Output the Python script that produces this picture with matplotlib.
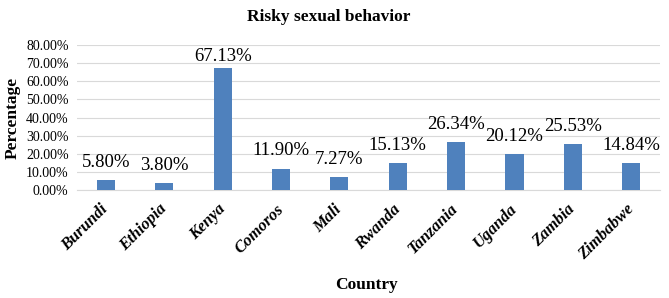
import matplotlib.pyplot as plt
from matplotlib.ticker import PercentFormatter

plt.rcParams['font.family'] = ['Liberation Serif', 'DejaVu Serif']

countries = ['Burundi', 'Ethiopia', 'Kenya', 'Comoros', 'Mali', 'Rwanda',
             'Tanzania', 'Uganda', 'Zambia', 'Zimbabwe']
values = [0.0580, 0.0380, 0.6713, 0.1190, 0.0727, 0.1513,
          0.2634, 0.2012, 0.2553, 0.1484]

fig = plt.figure(figsize=(6.69, 2.98), dpi=100)
ax = fig.add_axes([0.115, 0.362, 0.872, 0.487])

x = range(len(countries))
bars = ax.bar(x, values, width=0.31, color='#4f81bd', zorder=3)
# labels sit a bit above the bar, but are kept inside the plot area
for b, v in zip(bars, values):
    ax.text(b.get_x() + b.get_width() / 2, min(v + 0.05, 0.69), f'{v * 100:.2f}%',
            ha='center', va='bottom', fontsize=13.5)

ax.set_xlim(-0.5, len(countries) - 0.5)
ax.set_ylim(0, 0.8)
ax.set_yticks([i / 10 for i in range(9)])
ax.yaxis.set_major_formatter(PercentFormatter(1.0, decimals=2))
ax.tick_params(axis='y', length=0, labelsize=10, pad=6)
ax.tick_params(axis='x', length=0, pad=12)
ax.set_xticks(list(x))
ax.set_xticklabels(countries, rotation=45, ha='right', va='center', rotation_mode='anchor',
                   fontsize=12, fontweight='bold', fontstyle='italic')
ax.grid(axis='y', color='#d9d9d9', linewidth=0.8, zorder=0)
for s in ['top', 'right', 'left']:
    ax.spines[s].set_visible(False)
ax.spines['bottom'].set_color('#d9d9d9')

fig.text(0.492, 0.943, 'Risky sexual behavior', ha='center', va='center',
         fontsize=12.5, fontweight='bold')
ax.set_ylabel('Percentage', fontsize=12.5, fontweight='bold', labelpad=4)
fig.text(0.548, 0.03, 'Country', ha='center', fontsize=12.5, fontweight='bold')

fig.savefig('out.png', dpi=100)
